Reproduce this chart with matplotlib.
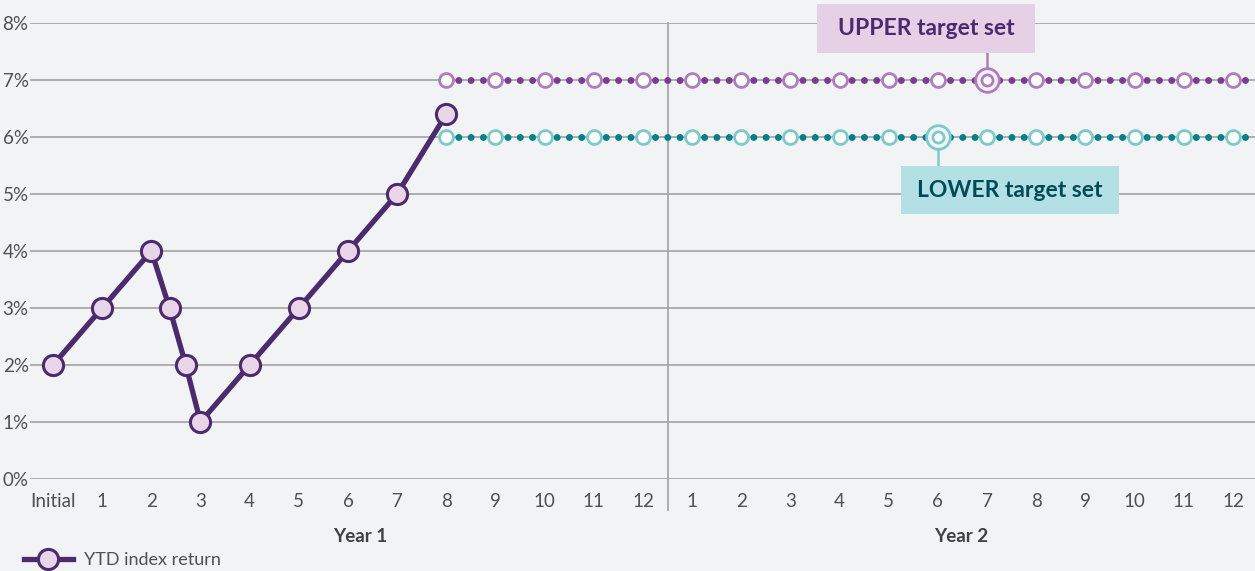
import matplotlib
matplotlib.use("Agg")
import matplotlib.pyplot as plt
from matplotlib.patches import Rectangle
import numpy as np

plt.rcParams['font.family'] = ['Lato', 'DejaVu Sans']

# x positions: 0 = Initial, 1..12 = Year 1 months, 13..24 = Year 2 months
ytd_x = [0, 1, 2, 2.37, 2.7, 3, 4, 5, 6, 7, 8]
ytd_y = [2, 3, 4, 3, 2, 1, 2, 3, 4, 5, 6.4]

target_x = list(range(8, 25))
upper_target = 7
lower_target = 6
upper_hi_x = 19
lower_hi_x = 18

tick_labels = ['Initial'] + [str(m) for m in range(1, 13)] + [str(m) for m in range(1, 13)]
y_ticks = [0, 1, 2, 3, 4, 5, 6, 7, 8]

BG = '#f2f3f5'
PURPLE = '#4b2a6e'
PURPLE_FACE = '#e8d5e8'
UP_RING = '#b07cc0'
UP_DOT = '#7a3c92'
LO_RING = '#7ecaca'
LO_DOT = '#00808a'
GRID = '#a8a8a8'
TXT = '#505050'

fig = plt.figure(figsize=(12.55, 5.71), dpi=100, facecolor=BG)
ax = fig.add_axes([30 / 1255, 92 / 571, 1225 / 1255, 456 / 571])
ax.set_facecolor(BG)
ax.set_xlim(-0.468, 24.45)
ax.set_ylim(0, 8)

for y in y_ticks:
    ax.axhline(y, color=GRID, lw=1.3, zorder=1)
ax.plot([12.5, 12.5], [-0.54, 8], color=GRID, lw=1.3, clip_on=False, zorder=1)

# dotted target lines
ax.plot([8, 24.6], [upper_target] * 2, color=UP_DOT, lw=5,
        linestyle=(0, (0.01, 1.76)), dash_capstyle='round', zorder=2, clip_on=False)
ax.plot([8, 24.6], [lower_target] * 2, color=LO_DOT, lw=5,
        linestyle=(0, (0.01, 1.76)), dash_capstyle='round', zorder=2, clip_on=False)
ax.plot(target_x, [upper_target] * len(target_x), ls='none', marker='o', ms=10,
        mfc='white', mec=UP_RING, mew=2, zorder=3)
ax.plot(target_x, [lower_target] * len(target_x), ls='none', marker='o', ms=10,
        mfc='white', mec=LO_RING, mew=2, zorder=3)

# highlighted points
for hx, hy, c in [(upper_hi_x, upper_target, UP_RING), (lower_hi_x, lower_target, LO_RING)]:
    ax.plot([hx], [hy], marker='o', ms=17, mfc=BG, mec=c, mew=2, zorder=4)
    ax.plot([hx], [hy], marker='o', ms=8, mfc='white', mec=c, mew=2, zorder=5)

# callouts
ax.plot([upper_hi_x, upper_hi_x], [7.2, 7.47], color=UP_RING, lw=1.8, zorder=3)
ax.add_patch(Rectangle((15.54, 7.47), 4.43, 0.86, facecolor='#e6d0e6', edgecolor='none',
                       zorder=6, clip_on=False))
ax.text(17.755, 7.90, 'UPPER target set', ha='center', va='center', fontsize=16.5,
        fontweight='bold', color=PURPLE, zorder=7)

ax.plot([lower_hi_x, lower_hi_x], [5.8, 5.49], color=LO_RING, lw=1.8, zorder=3)
ax.add_patch(Rectangle((17.25, 4.65), 4.43, 0.84, facecolor='#b3e0e5', edgecolor='none',
                       zorder=6))
ax.text(19.465, 5.07, 'LOWER target set', ha='center', va='center', fontsize=16.5,
        fontweight='bold', color='#004b57', zorder=7)

# YTD line
ax.plot(ytd_x, ytd_y, color=PURPLE, lw=3.8, marker='o', ms=14.5, mfc=PURPLE_FACE,
        mec=PURPLE, mew=2.2, zorder=8, clip_on=False, label='YTD index return')

ax.set_xticks(range(len(tick_labels)))
ax.set_xticklabels(tick_labels, fontsize=13.5, color=TXT)
ax.set_yticks(y_ticks)
ax.set_yticklabels([f'{v}%' for v in y_ticks], fontsize=13.5, color=TXT)
ax.tick_params(length=0, pad=10, axis='x')
ax.tick_params(length=0, pad=1, axis='y')
for s in ax.spines.values():
    s.set_visible(False)

ax.text(6.25, -1.0, 'Year 1', ha='center', va='center', fontsize=13.5, fontweight='bold', color='#404040')
ax.text(18.47, -1.0, 'Year 2', ha='center', va='center', fontsize=13.5, fontweight='bold', color='#404040')

leg = ax.legend(loc='center left', bbox_to_anchor=(24 / 1255, 11 / 571), bbox_transform=fig.transFigure,
                frameon=False, fontsize=13, handlelength=2.7, numpoints=1, handletextpad=0.6,
                borderaxespad=0, borderpad=0)
for t in leg.get_texts():
    t.set_color(TXT)

fig.savefig('out.png', dpi=100, facecolor=BG)
